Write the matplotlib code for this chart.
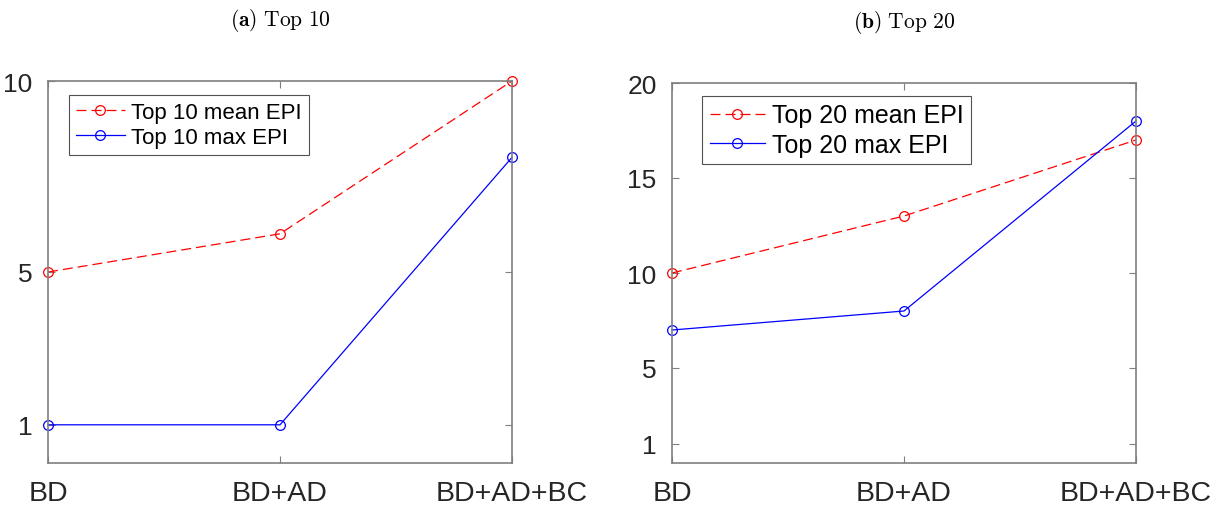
import matplotlib
matplotlib.use("Agg")
import matplotlib.pyplot as plt

categories = ["BD", "BD+AD", "BD+AD+BC"]
top10_mean = [5, 6, 10]
top10_max = [1, 1, 8]
top20_mean = [10, 13, 17]
top20_max = [7, 8, 18]
top10_yticks = [1, 5, 10]
top20_yticks = [1, 5, 10, 15, 20]

plt.rcParams['font.family'] = ['Liberation Sans', 'DejaVu Sans']
plt.rcParams['mathtext.fontset'] = 'cm'

fig = plt.figure(figsize=(12.18, 5.06), dpi=100)
ax1 = fig.add_axes([48/1218, 42/506, 464/1218, 382/506])
ax2 = fig.add_axes([672/1218, 42/506, 464/1218, 380/506])

panels = [
    (ax1, top10_mean, top10_max, top10_yticks, (0, 10), "10", r"$\mathbf{(a)}\ \mathrm{Top\ 10}$", 16, (21/464, 1 - 14/382)),
    (ax2, top20_mean, top20_max, top20_yticks, (0, 20), "20", r"$\mathbf{(b)}\ \mathrm{Top\ 20}$", 18, (30/464, 1 - 13/380)),
]
x = list(range(1, len(categories) + 1))
spine_col = '#7f7f7f'
txt_col = '#262626'
for ax, mean, mx, yt, ylim, n, title, lfs, anchor in panels:
    ax.plot(x, mean, color='red', linestyle=(0, (8, 4)), linewidth=0.9, marker='o',
            markersize=7, markerfacecolor='none', markeredgewidth=0.9, clip_on=False,
            label=f"Top {n} mean EPI")
    ax.plot(x, mx, color='blue', linestyle='-', linewidth=0.9, marker='o',
            markersize=7, markerfacecolor='none', markeredgewidth=0.9, clip_on=False,
            label=f"Top {n} max EPI")
    ax.set_xlim(1, 3)
    ax.set_ylim(*ylim)
    ax.set_xticks(x)
    ax.set_xticklabels(categories)
    ax.set_yticks(yt)
    ax.tick_params(direction='in', top=True, right=True, length=5, width=0.8,
                   color=spine_col, labelsize=19, labelcolor=txt_col, pad=11)
    ax.tick_params(axis='x', pad=12, labelsize=20.5)
    for s in ax.spines.values():
        s.set_color(spine_col)
        s.set_linewidth(1.2)
    leg = ax.legend(loc='upper left', bbox_to_anchor=anchor, fontsize=lfs, frameon=True,
                    fancybox=False, borderaxespad=0, handlelength=2.2, handletextpad=0.3,
                    borderpad=0.3, labelspacing=0.2)
    leg.get_frame().set_edgecolor('#262626')
    leg.get_frame().set_linewidth(0.8)
    ax.set_title(title, fontsize=15.5, pad=40)

fig.savefig("out.png", dpi=100)
